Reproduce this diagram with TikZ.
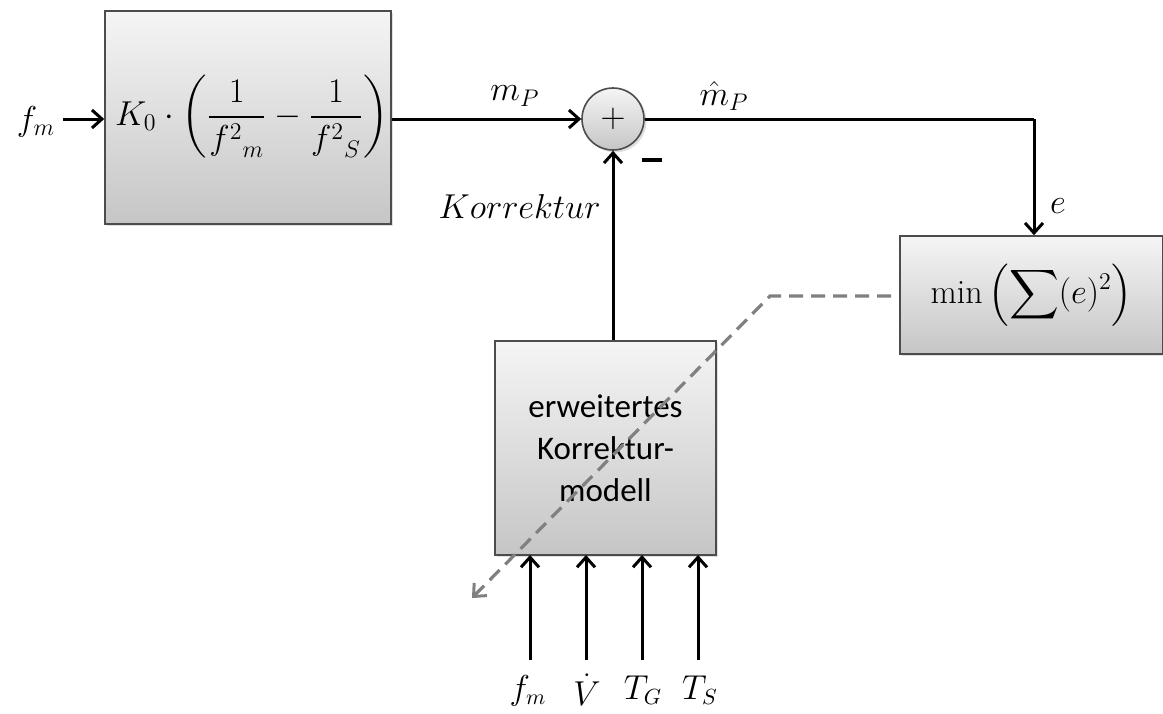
\documentclass[tikz,border=0pt]{standalone}
\usepackage{amsmath}
\usepackage{fontspec}
\newfontfamily\carlito{Carlito}
\usetikzlibrary{arrows.meta,shadows}
\begin{document}
\begin{tikzpicture}[x=0.5pt,y=-0.5pt,
  blk/.style={draw=black!70,line width=0.8pt,top color=gray!8,bottom color=gray!45,
    drop shadow={opacity=0.25,shadow xshift=1.2pt,shadow yshift=-1.2pt},inner sep=0pt},
  sig/.style={line width=1.5pt,-{Straight Barb[length=5pt,width=9pt,line width=1.5pt]}},
  wire/.style={line width=1.5pt},
  dsh/.style={line width=1.6pt,gray,dash pattern=on 7pt off 4pt,
    -{Straight Barb[length=5pt,width=9pt,line width=1.5pt]}},
  lbl/.style={inner sep=0pt,font=\fontsize{17}{20}\selectfont}]
\useasboundingbox (0,0) rectangle (1163,713);
\fill[white] (0,0) rectangle (1163,713);
% blocks
\node[blk,minimum width=143pt,minimum height=106.5pt] (b1) at (248,117.5) {};
\node[inner sep=0pt,font=\fontsize{16.5}{19}\selectfont] (f1) at (252,117)
  {$K_0\cdot\left(\dfrac{1}{{f^{2}}_{m}}-\dfrac{1}{{f^{2}}_{S}}\right)$};
\node[blk,circle,minimum size=31pt,font=\fontsize{16}{18}\selectfont] (s) at (613,119) {$+$};
\node[blk,minimum width=131.5pt,minimum height=59pt,font=\fontsize{17}{20}\selectfont] (b3) at (1031.5,295)
  {$\min\left(\displaystyle\sum\nolimits(e)^2\right)$};
\node[blk,minimum width=110.5pt,minimum height=107pt,align=center,font=\carlito\fontsize{16.5}{21}\selectfont] (b2) at (605.5,448)
  {erweitertes\\Korrektur-\\modell};
% labels
\node[lbl] (lfm) at (36,122) {$f_m$};
\node[lbl] (lmp) at (515,96) {$m_P$};
\node[lbl] (lmh) at (724,96) {$\hat{m}_P$};
\node[inner sep=0pt] (lminus) at (652,160) {\rule{10pt}{2pt}};
\node[lbl,anchor=east] (lkorr) at (601,206) {$Korrektur$};
\node[lbl] (le) at (1058,206) {$e$};
\node[lbl,font=\fontsize{16}{18}\selectfont] (i1) at (528,691) {$f_m$};
\node[lbl,font=\fontsize{16}{18}\selectfont] (i2) at (587,690) {$\dot{V}$};
\node[lbl,font=\fontsize{16}{18}\selectfont] (i3) at (643,690) {$T_G$};
\node[lbl,font=\fontsize{16}{18}\selectfont] (i4) at (700,690) {$T_S$};
% coordinates
\coordinate (fin) at (63,119);
\coordinate (c1) at (1034,119);
\coordinate (d0) at (891,296);
\coordinate (d1) at (770,296);
\coordinate (d2) at (472,598);
\foreach \x/\n in {530/1,586/2,642/3,698/4}{
  \coordinate (p\n) at (\x,660);
  \coordinate (q\n) at (\x,555);
}
% connectors
\draw[sig] (fin) -- (b1.west |- fin);
\draw[sig] (b1.east |- s.west) -- (s.west);
\draw[wire] (s.east) -- (c1);
\draw[sig] (c1) -- (c1 |- b3.north);
\draw[sig] (b2.north -| s.south) -- (s.south);
\draw[dsh] (d0) -- (d1) -- (d2);
\foreach \n in {1,2,3,4}{\draw[sig] (p\n) -- (q\n);}
\end{tikzpicture}
\end{document}
